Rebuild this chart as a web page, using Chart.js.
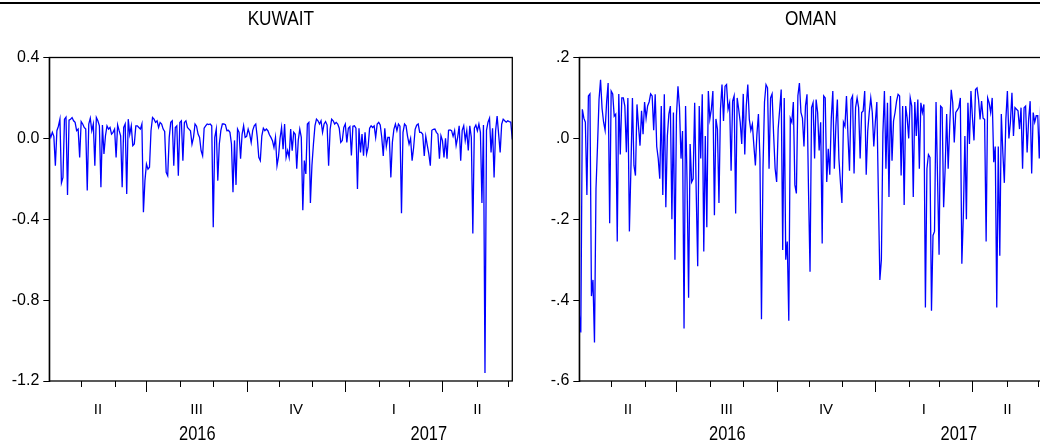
<!DOCTYPE html>
<html><head><meta charset="utf-8">
<script src="https://cdn.jsdelivr.net/npm/chart.js@4/dist/chart.umd.min.js"></script>
<style>
html,body{margin:0;padding:0;background:#fff;width:1040px;height:447px;overflow:hidden;position:relative}
#rule{position:absolute;left:0;top:2px;width:1040px;height:2px;background:#000}
.panel{position:absolute;top:0;width:520px;height:447px}
</style></head><body>
<div id="rule"></div>
<div class="panel" style="left:0"><canvas id="c1" width="520" height="447"></canvas></div>
<div class="panel" style="left:530px"><canvas id="c2" width="520" height="447"></canvas></div>
<script>
const kuwait = [
0.03,0.005,0.03,0.01,-0.135,0.038,0.06,0.095,-0.22,-0.193,
0.095,0.105,-0.28,0.09,0.095,0.103,0.087,0.079,0.038,0.046,
-0.094,0.083,0.071,0.054,0.046,-0.258,0.071,0.1,0.038,0.071,
-0.135,0.103,0.087,0.062,-0.242,0.066,-0.077,0.013,0.062,0.046,
0.054,0.021,0.03,0.046,-0.094,0.066,0.038,0.013,-0.242,0.054,
0.071,-0.275,0.095,0.02,0.062,-0.036,-0.028,0.062,0.062,0.054,
0.046,0.071,-0.365,-0.209,-0.127,-0.152,-0.143,0.038,0.103,0.095,
0.079,0.087,0.054,0.079,0.071,0.046,0.034,-0.168,-0.185,0.005,
0.079,0.087,-0.135,0.054,0.062,-0.185,0.079,0.087,-0.11,0.079,
0.087,0.054,0.046,0.038,-0.028,0.005,0.071,0.06,0.021,0.005,
-0.061,-0.086,0.05,0.062,0.071,0.068,0.071,0.062,-0.44,0.005,
0.046,-0.209,-0.028,0.038,0.071,0.071,0.068,0.038,0.04,0.03,
-0.028,-0.266,-0.01,-0.23,0.046,0.03,-0.1,0.02,0.062,0.005,
0.01,0.046,0.021,-0.02,0.04,0.062,0.071,0.005,-0.094,-0.11,
0.013,0.05,0.038,0.046,0.038,0.018,0.005,-0.011,-0.045,0.005,
-0.135,-0.09,0.0,0.054,-0.053,0.071,-0.094,-0.06,-0.094,0.046,
-0.061,0.03,0.02,-0.15,-0.01,0.046,0.005,-0.355,-0.11,-0.176,
0.071,0.079,-0.32,-0.135,-0.028,0.062,0.095,0.087,0.071,0.087,
0.03,0.071,0.083,0.066,-0.135,0.045,0.095,0.087,0.071,0.079,
0.071,0.05,-0.02,-0.011,0.054,0.071,-0.02,0.05,0.058,-0.085,
0.06,0.062,0.05,-0.25,0.05,-0.07,0.021,-0.086,0.03,-0.077,
-0.045,0.05,0.062,0.054,0.062,0.005,0.071,0.079,0.066,0.005,
-0.087,0.05,-0.04,0.005,0.005,-0.193,-0.02,0.045,0.071,0.038,
0.071,0.06,-0.37,0.03,0.071,0.062,0.01,-0.028,0.0,-0.11,
-0.045,0.045,0.065,0.071,0.03,0.03,0.02,-0.087,0.01,-0.035,
-0.077,-0.135,0.04,0.045,0.046,0.03,0.021,-0.1,0.013,-0.011,
-0.094,0.0,-0.1,0.04,0.042,0.038,0.01,0.038,-0.035,0.005,
0.062,-0.11,0.04,0.062,-0.01,0.038,-0.06,0.062,0.005,-0.47,
0.05,0.066,0.038,0.071,0.03,-0.32,0.066,-1.16,0.04,0.08,
0.1,-0.07,0.05,-0.193,0.038,0.11,0.021,-0.07,0.07,0.095,
0.087,0.08,0.087,0.083,0.08,-0.005
];
const oman = [
-0.435,-0.48,0.072,0.05,0.04,-0.14,0.105,0.11,-0.39,-0.35,
-0.505,-0.124,-0.018,0.096,0.145,0.074,0.04,0.02,0.09,0.137,
-0.21,0.117,0.11,0.055,0.06,-0.255,0.11,-0.04,0.1,0.1,
0.08,-0.034,0.1,-0.23,-0.075,0.1,-0.067,-0.092,0.084,0.03,
-0.018,0.068,0.01,0.09,0.05,0.08,0.09,0.11,0.105,0.02,
0.109,-0.02,-0.05,-0.1,0.08,-0.14,0.109,-0.17,0.006,0.06,
0.08,-0.2,0.064,-0.3,0.056,0.129,0.076,-0.05,0.018,-0.47,
0.08,-0.11,-0.394,-0.014,-0.108,-0.1,0.088,-0.13,-0.316,0.08,
-0.05,0.109,-0.28,0.006,-0.22,0.117,0.048,0.072,0.117,-0.19,
0.048,0.023,-0.16,0.072,0.133,0.043,0.129,0.133,0.072,0.088,
-0.08,0.092,0.105,-0.186,0.1,0.072,0.04,-0.014,0.11,-0.04,
0.08,0.133,0.047,0.02,0.035,-0.018,-0.067,0.01,0.06,-0.05,
-0.447,-0.075,0.09,0.133,0.125,-0.075,0.1,0.11,0.01,-0.075,
-0.108,0.023,0.072,0.121,-0.276,0.1,-0.3,-0.255,-0.451,0.05,
0.04,0.09,-0.115,-0.136,0.105,0.137,0.064,0.05,-0.02,0.08,
0.109,-0.13,-0.33,0.076,0.088,-0.05,0.096,0.064,-0.03,0.04,
-0.26,0.105,0.1,-0.108,-0.026,-0.09,0.05,0.117,-0.075,0.03,
0.096,-0.05,-0.108,-0.16,0.04,0.03,0.105,0.006,-0.08,0.096,
0.105,-0.087,0.076,0.1,0.076,-0.05,0.064,0.068,0.117,-0.09,
0.018,0.064,0.1,0.064,-0.02,0.04,0.09,-0.136,-0.35,-0.3,
0.013,0.117,-0.075,0.088,-0.145,0.105,-0.055,0.043,0.064,0.092,
0.109,0.105,-0.092,0.08,-0.165,0.08,0.05,0.0,0.1,0.08,
-0.145,0.09,0.006,0.096,-0.075,0.088,0.064,0.084,-0.418,-0.075,
-0.04,-0.047,-0.426,-0.24,-0.23,0.09,-0.1,-0.288,0.08,0.076,
-0.17,-0.075,0.06,-0.075,0.03,0.12,0.088,-0.01,0.064,0.07,
0.076,0.1,-0.31,-0.19,0.006,-0.2,0.088,-0.014,0.117,0.05,
-0.005,0.121,0.125,0.096,0.047,0.092,0.05,0.047,-0.255,0.1,
0.088,0.064,0.1,-0.059,-0.02,-0.418,-0.02,-0.29,0.06,-0.035,
-0.11,0.047,0.117,0.0,0.04,0.113,0.006,0.076,0.072,0.068,
0.023,0.076,-0.075,0.076,0.08,-0.035,0.047,0.092,-0.087,0.064,
0.04,0.056,0.056,-0.05,0.096,0.02
];
// observation index where each month begins (Apr 2016 .. Jun 2017)
const monthStarts = [0,21,43,64,86,108,130,151,173,195,217,237,259,282,302];
const quarterStarts = [0,64,130,195,259];
const quarterLabels = ['II','III','IV','I','II'];
const yearStarts = [0,195];
const yearLabels = ['2016','2017'];
const kuwaitTicks = [-1.2,-0.8,-0.4,0,0.4];
const omanTicks = [-0.6,-0.4,-0.2,0,0.2];

const FONT = '"Liberation Sans", Arial, Helvetica, sans-serif';

function eviewsAxis(title){
  return {
    id:'eviewsAxis',
    afterDraw(chart){
      const ctx = chart.ctx, a = chart.chartArea, x = chart.scales.x;
      ctx.save();
      ctx.strokeStyle = '#000';
      ctx.lineWidth = 1.3;
      ctx.strokeRect(a.left, a.top, a.right - a.left, a.bottom - a.top);
      ctx.lineWidth = 1;
      monthStarts.forEach(i => {
        if (i <= x.min || i >= x.max) return;
        const px = Math.round(x.getPixelForValue(i)) + 0.5;
        const len = quarterStarts.includes(i) ? 11 : 6;
        ctx.beginPath(); ctx.moveTo(px, a.bottom); ctx.lineTo(px, a.bottom + len); ctx.stroke();
      });
      ctx.fillStyle = '#000';
      ctx.textAlign = 'center';
      ctx.textBaseline = 'alphabetic';
      ctx.font = '15px ' + FONT;
      quarterStarts.forEach((s, j) => {
        const e = j + 1 < quarterStarts.length ? quarterStarts[j + 1] : x.max;
        const cx = (x.getPixelForValue(s) + x.getPixelForValue(e)) / 2;
        ctx.fillText(quarterLabels[j], cx, a.bottom + 33);
      });
      const narrow = (txt, cx, y, size) => {
        ctx.save();
        ctx.font = size + 'px ' + FONT;
        ctx.translate(cx, y);
        ctx.scale(0.82, 1);
        ctx.fillText(txt, 0, 0);
        ctx.restore();
      };
      yearStarts.forEach((s, j) => {
        const e = j + 1 < yearStarts.length ? yearStarts[j + 1] : x.max;
        const cx = (x.getPixelForValue(s) + x.getPixelForValue(e)) / 2;
        narrow(yearLabels[j], cx, a.bottom + 59, 20);
      });
      narrow(title, (a.left + a.right) / 2, 25, 21);
      ctx.restore();
    }
  };
}

function makeChart(id, title, values, yTicks, fmt){
  const labels = values.map((_, i) => i);
  return new Chart(document.getElementById(id), {
    type: 'line',
    data: { labels, datasets: [{ data: values, borderColor: '#0000ff', borderWidth: 1.3,
      pointRadius: 0, tension: 0, fill: false }] },
    options: {
      responsive: false, animation: false,
      layout: { padding: { left: 0, right: 7.7, top: 57.5, bottom: 66 } },
      plugins: { legend: { display: false }, title: { display: false }, tooltip: { enabled: false } },
      scales: {
        x: { type: 'linear', min: 0, max: values.length - 1, display: false },
        y: {
          min: yTicks[0], max: yTicks[yTicks.length - 1],
          afterBuildTicks: s => { s.ticks = yTicks.map(v => ({ value: v })); },
          afterFit: s => { s.width = 49.3; },
          ticks: { color: '#000', font: { family: FONT, size: 16 }, padding: 4, callback: v => fmt(v) },
          grid: { drawOnChartArea: false, tickLength: 6, color: '#000', tickColor: '#000', lineWidth: 1 },
          border: { display: true, color: '#000', width: 1.3 }
        }
      }
    },
    plugins: [eviewsAxis(title)]
  });
}

makeChart('c1', 'KUWAIT', kuwait, kuwaitTicks, v => Number(v).toFixed(1));
makeChart('c2', 'OMAN', oman, omanTicks, v => Number(v).toFixed(1).replace(/^(-?)0\./, '$1.'));
</script>
</body></html>
